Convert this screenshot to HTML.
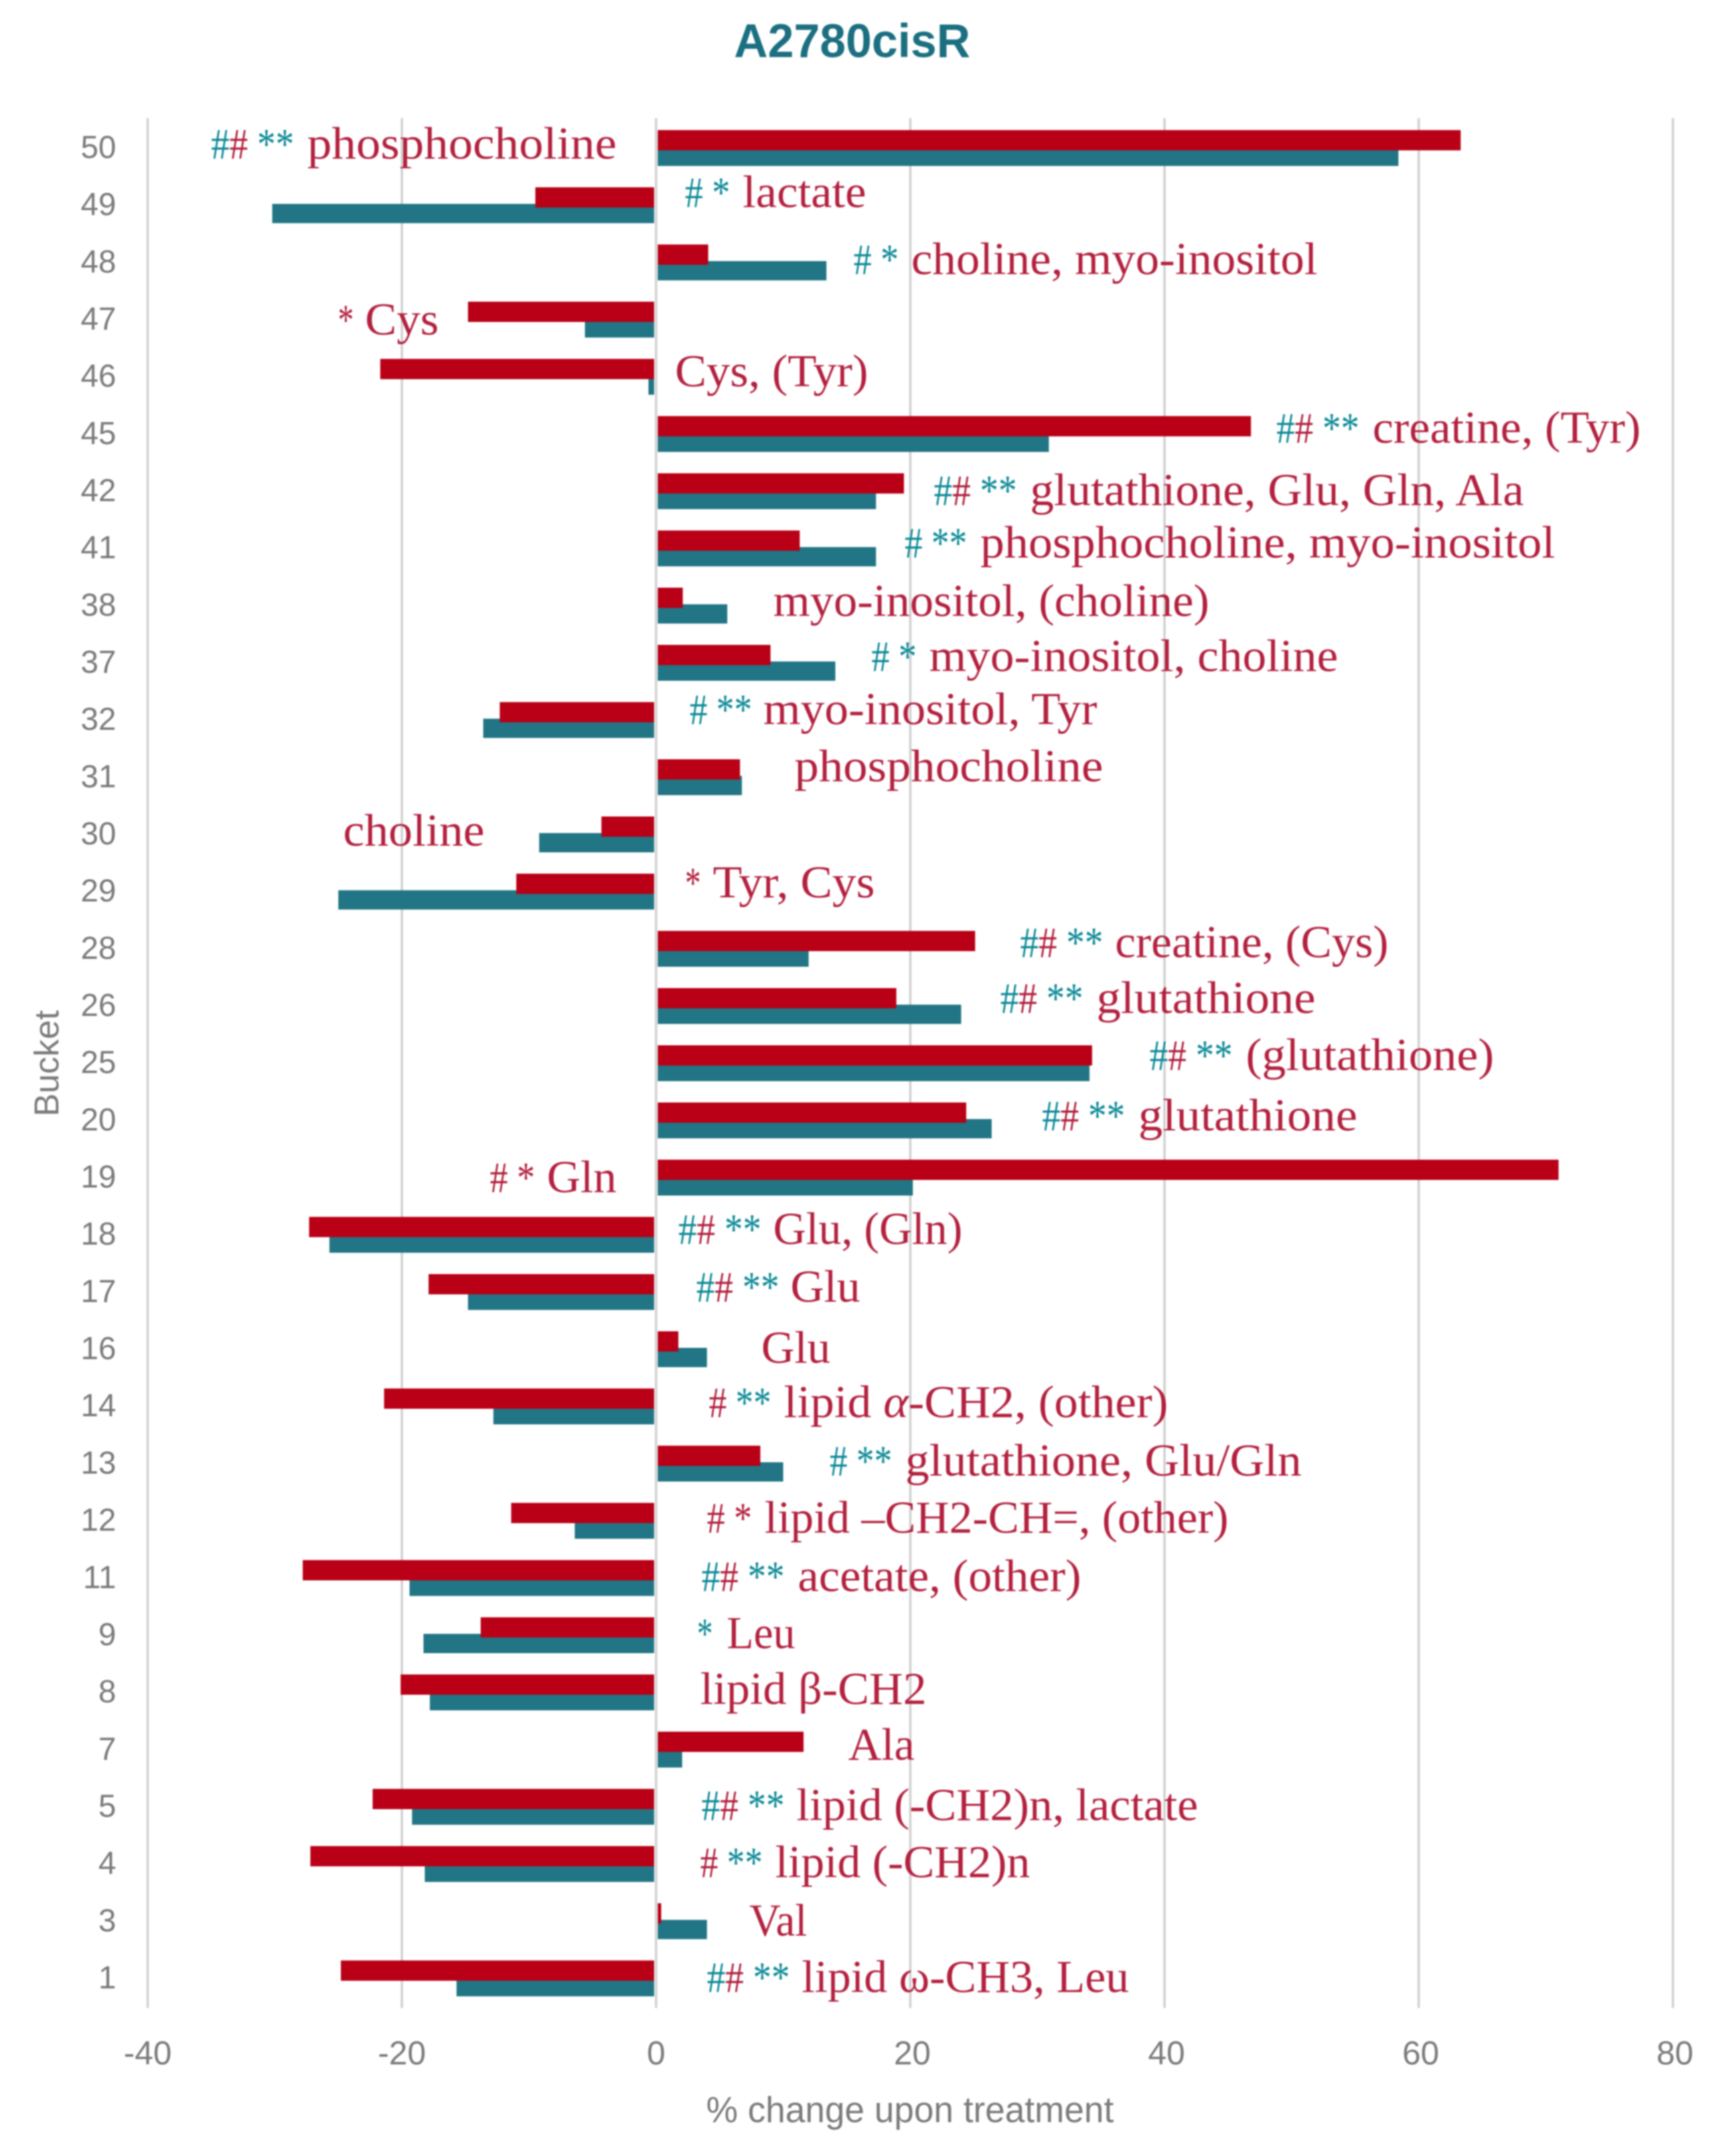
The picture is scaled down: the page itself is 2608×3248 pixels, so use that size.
<!DOCTYPE html>
<html lang="en">
<head>
<meta charset="utf-8">
<title>A2780cisR</title>
<style>
html,body{margin:0;padding:0;background:#fff;}
#chart{display:block;width:2608px;height:3248px;filter:blur(1px);}
.ax{font-family:"Liberation Sans",sans-serif;fill:#7b7b7b;}
.n{font-family:"Liberation Serif",serif;font-size:69px;fill:#b3203e;}
.p{font-family:"Liberation Serif",serif;font-size:66px;fill:#b3203e;}
.t{fill:#0c8a97;}
.r{fill:#b3203e;}
</style>
</head>
<body>
<svg id="chart" xmlns="http://www.w3.org/2000/svg" width="2608" height="3248" viewBox="0 0 2608 3248">
<rect width="2608" height="3248" fill="#fff"/>
<text x="1106" y="86" font-family="Liberation Sans, sans-serif" font-weight="700" font-size="71" fill="#1b6f80" textLength="356" lengthAdjust="spacingAndGlyphs">A2780cisR</text>
<g id="grid"></g>
<g id="bars"></g>
<g id="yaxis"></g>
<g id="xaxis"></g>
<text class="ax" x="1064" y="3197" font-size="55" textLength="614" lengthAdjust="spacingAndGlyphs">% change upon treatment</text>
<text class="ax" transform="translate(88,1682) rotate(-90)" font-size="52" textLength="160" lengthAdjust="spacingAndGlyphs">Bucket</text>

<g transform="translate(0,2)">
<text class="p" x="318" y="237" textLength="125" lengthAdjust="spacingAndGlyphs"><tspan class="t">#</tspan><tspan class="r">#</tspan> <tspan class="t">**</tspan></text>
<text class="n" x="463" y="237" textLength="466" lengthAdjust="spacingAndGlyphs">phosphocholine</text>
<text class="p" x="1032" y="310" textLength="68" lengthAdjust="spacingAndGlyphs"><tspan class="t"># *</tspan></text>
<text class="n" x="1119" y="310" textLength="186" lengthAdjust="spacingAndGlyphs">lactate</text>
<text class="p" x="1286" y="411" textLength="68" lengthAdjust="spacingAndGlyphs"><tspan class="t"># *</tspan></text>
<text class="n" x="1373" y="411" textLength="612" lengthAdjust="spacingAndGlyphs">choline, myo-inositol</text>
<text class="p" x="509" y="502" textLength="24" lengthAdjust="spacingAndGlyphs">*</text>
<text class="n" x="550" y="502" textLength="111" lengthAdjust="spacingAndGlyphs">Cys</text>
<text class="n" x="1017" y="580" textLength="291" lengthAdjust="spacingAndGlyphs">Cys, (Tyr)</text>
<text class="p" x="1923" y="665" textLength="125" lengthAdjust="spacingAndGlyphs"><tspan class="t">#</tspan><tspan class="r">#</tspan> <tspan class="t">**</tspan></text>
<text class="n" x="2068" y="665" textLength="404" lengthAdjust="spacingAndGlyphs">creatine, (Tyr)</text>
<text class="p" x="1407" y="759" textLength="125" lengthAdjust="spacingAndGlyphs"><tspan class="t">#</tspan><tspan class="r">#</tspan> <tspan class="t">**</tspan></text>
<text class="n" x="1552" y="759" textLength="744" lengthAdjust="spacingAndGlyphs">glutathione, Glu, Gln, Ala</text>
<text class="p" x="1363" y="838" textLength="94" lengthAdjust="spacingAndGlyphs"><tspan class="t"># **</tspan></text>
<text class="n" x="1477" y="838" textLength="866" lengthAdjust="spacingAndGlyphs">phosphocholine, myo-inositol</text>
<text class="n" x="1165" y="926" textLength="657" lengthAdjust="spacingAndGlyphs">myo-inositol, (choline)</text>
<text class="p" x="1313" y="1009" textLength="68" lengthAdjust="spacingAndGlyphs"><tspan class="t"># *</tspan></text>
<text class="n" x="1400" y="1009" textLength="616" lengthAdjust="spacingAndGlyphs">myo-inositol, choline</text>
<text class="p" x="1039" y="1089" textLength="94" lengthAdjust="spacingAndGlyphs"><tspan class="t"># **</tspan></text>
<text class="n" x="1150" y="1089" textLength="503" lengthAdjust="spacingAndGlyphs">myo-inositol, Tyr</text>
<text class="n" x="1197" y="1175" textLength="465" lengthAdjust="spacingAndGlyphs">phosphocholine</text>
<text class="n" x="517" y="1272" textLength="213" lengthAdjust="spacingAndGlyphs">choline</text>
<text class="p" x="1032" y="1350" textLength="24" lengthAdjust="spacingAndGlyphs">*</text>
<text class="n" x="1074" y="1350" textLength="244" lengthAdjust="spacingAndGlyphs">Tyr, Cys</text>
<text class="p" x="1537" y="1440" textLength="125" lengthAdjust="spacingAndGlyphs"><tspan class="t">#</tspan><tspan class="r">#</tspan> <tspan class="t">**</tspan></text>
<text class="n" x="1680" y="1440" textLength="412" lengthAdjust="spacingAndGlyphs">creatine, (Cys)</text>
<text class="p" x="1507" y="1524" textLength="125" lengthAdjust="spacingAndGlyphs"><tspan class="t">#</tspan><tspan class="r">#</tspan> <tspan class="t">**</tspan></text>
<text class="n" x="1652" y="1524" textLength="330" lengthAdjust="spacingAndGlyphs">glutathione</text>
<text class="p" x="1732" y="1610" textLength="125" lengthAdjust="spacingAndGlyphs"><tspan class="t">#</tspan><tspan class="r">#</tspan> <tspan class="t">**</tspan></text>
<text class="n" x="1877" y="1610" textLength="374" lengthAdjust="spacingAndGlyphs">(glutathione)</text>
<text class="p" x="1570" y="1701" textLength="125" lengthAdjust="spacingAndGlyphs"><tspan class="t">#</tspan><tspan class="r">#</tspan> <tspan class="t">**</tspan></text>
<text class="n" x="1715" y="1701" textLength="330" lengthAdjust="spacingAndGlyphs">glutathione</text>
<text class="p" x="738" y="1794" textLength="68" lengthAdjust="spacingAndGlyphs"># *</text>
<text class="n" x="824" y="1794" textLength="105" lengthAdjust="spacingAndGlyphs">Gln</text>
<text class="p" x="1022" y="1872" textLength="125" lengthAdjust="spacingAndGlyphs"><tspan class="t">#</tspan><tspan class="r">#</tspan> <tspan class="t">**</tspan></text>
<text class="n" x="1165" y="1872" textLength="285" lengthAdjust="spacingAndGlyphs">Glu, (Gln)</text>
<text class="p" x="1049" y="1959" textLength="125" lengthAdjust="spacingAndGlyphs"><tspan class="t">#</tspan><tspan class="r">#</tspan> <tspan class="t">**</tspan></text>
<text class="n" x="1191" y="1959" textLength="105" lengthAdjust="spacingAndGlyphs">Glu</text>
<text class="n" x="1147" y="2051" textLength="104" lengthAdjust="spacingAndGlyphs">Glu</text>
<text class="p" x="1068" y="2133" textLength="94" lengthAdjust="spacingAndGlyphs"><tspan class="r">#</tspan> <tspan class="t">**</tspan></text>
<text class="n" x="1181" y="2133" textLength="579" lengthAdjust="spacingAndGlyphs">lipid <tspan font-style="italic">α</tspan>-CH2, (other)</text>
<text class="p" x="1250" y="2221" textLength="94" lengthAdjust="spacingAndGlyphs"><tspan class="t"># **</tspan></text>
<text class="n" x="1364" y="2221" textLength="597" lengthAdjust="spacingAndGlyphs">glutathione, Glu/Gln</text>
<text class="p" x="1065" y="2307" textLength="68" lengthAdjust="spacingAndGlyphs"># *</text>
<text class="n" x="1152" y="2307" textLength="699" lengthAdjust="spacingAndGlyphs">lipid –CH2-CH=, (other)</text>
<text class="p" x="1057" y="2395" textLength="125" lengthAdjust="spacingAndGlyphs"><tspan class="t">#</tspan><tspan class="r">#</tspan> <tspan class="t">**</tspan></text>
<text class="n" x="1202" y="2395" textLength="427" lengthAdjust="spacingAndGlyphs">acetate, (other)</text>
<text class="p" x="1050" y="2481" textLength="24" lengthAdjust="spacingAndGlyphs"><tspan class="t">*</tspan></text>
<text class="n" x="1095" y="2481" textLength="103" lengthAdjust="spacingAndGlyphs">Leu</text>
<text class="n" x="1055" y="2565" textLength="341" lengthAdjust="spacingAndGlyphs">lipid β-CH2</text>
<text class="n" x="1278" y="2649" textLength="100" lengthAdjust="spacingAndGlyphs">Ala</text>
<text class="p" x="1057" y="2740" textLength="125" lengthAdjust="spacingAndGlyphs"><tspan class="t">#</tspan><tspan class="r">#</tspan> <tspan class="t">**</tspan></text>
<text class="n" x="1200" y="2740" textLength="605" lengthAdjust="spacingAndGlyphs">lipid (-CH2)n, lactate</text>
<text class="p" x="1055" y="2826" textLength="94" lengthAdjust="spacingAndGlyphs"><tspan class="r">#</tspan> <tspan class="t">**</tspan></text>
<text class="n" x="1168" y="2826" textLength="384" lengthAdjust="spacingAndGlyphs">lipid (-CH2)n</text>
<text class="n" x="1129" y="2914" textLength="87" lengthAdjust="spacingAndGlyphs">Val</text>
<text class="p" x="1065" y="2999" textLength="125" lengthAdjust="spacingAndGlyphs"><tspan class="t">#</tspan><tspan class="r">#</tspan> <tspan class="t">**</tspan></text>
<text class="n" x="1208" y="2999" textLength="493" lengthAdjust="spacingAndGlyphs">lipid ω-CH3, Leu</text>
</g>
</svg>
<script>
const categories = [50,49,48,47,46,45,42,41,38,37,32,31,30,29,28,26,25,20,19,18,17,16,14,13,12,11,9,8,7,5,4,3,1];
const redSeries = [63.3,-9.5,4.1,-14.8,-21.7,46.8,19.5,11.3,2.1,9.0,-12.3,6.6,-4.3,-11.0,25.1,18.9,34.3,24.4,71.0,-27.3,-17.9,1.75,-21.4,8.2,-11.4,-27.8,-13.8,-20.1,11.6,-22.3,-27.2,0.4,-24.8];
const tealSeries = [58.4,-30.2,13.4,-5.6,-0.6,30.9,17.3,17.3,5.6,14.1,-13.6,6.75,-9.2,-25.0,12.0,24.0,34.1,26.4,20.2,-25.7,-14.8,4.0,-12.8,10.0,-6.4,-19.4,-18.3,-17.8,2.05,-19.2,-18.2,4.0,-15.7];
const xTicks = [-40,-20,0,20,40,60,80];

const SVGNS = 'http://www.w3.org/2000/svg';
const xScale = v => 988.5 + v * 19.15;
const rowCenter = i => 223 + i * 86.17;

function make(tag, attrs, parent) {
  const el = document.createElementNS(SVGNS, tag);
  for (const k in attrs) el.setAttribute(k, attrs[k]);
  parent.appendChild(el);
  return el;
}
function barRect(v, i, top, h, color, parent) {
  const start = v >= 0 ? xScale(0) + 2.5 : xScale(0) - 3;
  const end = xScale(v);
  const x = Math.min(start, end);
  const w = Math.max(Math.abs(end - start), 1);
  return make('rect', {x: x, y: rowCenter(i) + top, width: w, height: h, fill: color}, parent);
}

const gridG = document.getElementById('grid');
const xG = document.getElementById('xaxis');
xTicks.forEach(t => {
  const line = make('line', {x1: xScale(t), x2: xScale(t), y1: 178, y2: 3025, stroke: '#d0d0d0', 'stroke-width': 3.5}, gridG);
  
  
  const label = make('text', {x: xScale(t) + (t > 0 ? 3 : 0), y: 3110, 'text-anchor': 'middle', 'font-size': 50, class: 'ax'}, xG);
  label.textContent = t;
  
  
});

const barsG = document.getElementById('bars');
const yG = document.getElementById('yaxis');
categories.forEach((c, i) => {
  const teal = barRect(tealSeries[i], i, -2, 29, '#217585', barsG);
  
  
  const red = barRect(redSeries[i], i, -27, 30.5, '#b90016', barsG);
  
  
  const label = make('text', {x: 175, y: rowCenter(i) + 15, 'text-anchor': 'end', 'font-size': 48, class: 'ax'}, yG);
  label.textContent = c;
  
  
});
</script>
</body>
</html>
